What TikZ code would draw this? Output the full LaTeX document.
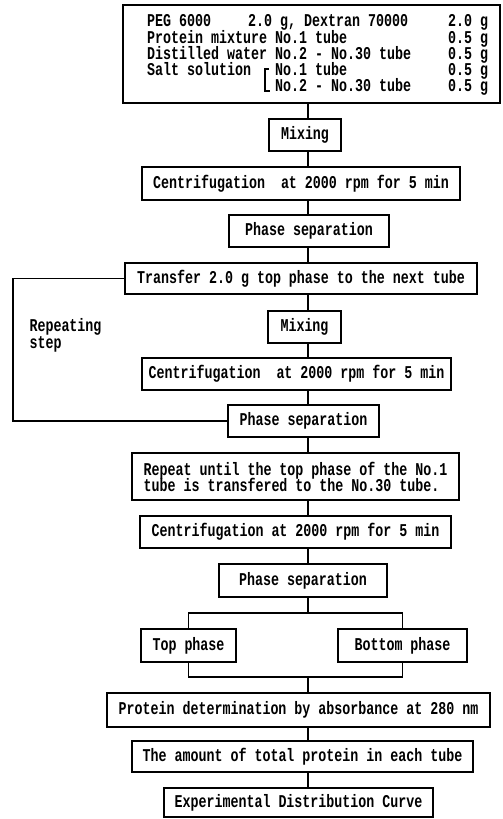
\documentclass[tikz,border=0pt]{standalone}
\usepackage{fontspec}
\newfontfamily\flowfont[FakeStretch=0.74]{Liberation Mono}
\setlength{\lineskiplimit}{-20pt}
% one line of the starting composition: component, tubes, amount
\newcommand\tubecols[3]{\makebox[128pt][l]{#1}\makebox[173pt][l]{#2}#3}
\begin{document}
\begin{tikzpicture}[x=1pt, y=-1pt,
    every node/.style={font=\flowfont\bfseries\fontsize{18}{16}\selectfont},
    box/.style={draw, line width=1.5pt, inner sep=2pt, minimum height=32pt},
    link/.style={line width=1.5pt}]
    \useasboundingbox (0,0) rectangle (503,819);
    % x position of the main vertical line
    \coordinate (spine) at (308,0);
    \coordinate (loopx) at (13,0);

    % 1. Starting composition
    \node[box, minimum width=377pt, minimum height=98pt] (recipe) at (311.5,54) {};
    \node[anchor=base west, inner sep=0pt] (row1) at (147,27)
        {\makebox[101pt][l]{PEG 6000}\makebox[200pt][l]{2.0 g, Dextran 70000}2.0 g};
    \node[anchor=base west, inner sep=0pt] (row2) at (147,43) {\tubecols{Protein mixture}{No.1 tube}{0.5 g}};
    \node[anchor=base west, inner sep=0pt] (row3) at (147,59) {\tubecols{Distilled water}{No.2 - No.30 tube}{0.5 g}};
    \node[anchor=base west, inner sep=0pt] (row4) at (147,75) {\tubecols{Salt solution}{No.1 tube}{0.5 g}};
    \node[anchor=base west, inner sep=0pt] (row5) at (147,91) {\tubecols{}{No.2 - No.30 tube}{0.5 g}};
    \draw[line width=1.2pt] (269,69) -| (265,91) -- (270,91);

    % 2. First round
    \node[box, minimum width=72pt] (mixa) at (305,135) {Mixing};
    \node[box, minimum width=318pt, minimum height=33pt] (centa) at (301,183.5) {Centrifugation~ at 2000 rpm for 5 min};
    \node[box, minimum width=160pt] (sepa) at (309,231) {Phase separation};

    % 3. Repeating step
    \node[box, minimum width=352pt, minimum height=31pt] (transfer) at (301,278.5) {Transfer 2.0 g top phase to the next tube};
    \node[box, minimum width=73pt] (mixb) at (304.5,327) {Mixing};
    \node[box, minimum width=309pt] (centb) at (296.5,374) {Centrifugation~ at 2000 rpm for 5 min};
    \node[box, minimum width=151pt] (sepb) at (303.5,421) {Phase separation};
    \node[anchor=west, align=left] (looptext) at (26,335) {Repeating\\[1pt]step};
    \draw[link] (transfer.west) -| (loopx |- sepb.west) -- (sepb.west);

    % 4. Last round
    \node[box, minimum width=327pt, minimum height=47pt, align=left] (repeat) at (295.5,476.5)
        {Repeat until the top phase of the No.1\\tube is transfered to the No.30 tube.};
    \node[box, minimum width=311pt] (centc) at (295.5,532) {Centrifugation at 2000 rpm for 5 min};
    \node[box, minimum width=168pt, minimum height=33pt] (sepc) at (303,580.5) {Phase separation};

    % 5. Two phases
    \node[box, minimum width=95pt, minimum height=33pt] (topph) at (188.5,645.5) {Top phase};
    \node[box, minimum width=129pt, minimum height=33pt] (botph) at (402.5,645.5) {Bottom phase};
    \coordinate (split) at (308,613);
    \coordinate (join) at (308,677);

    % 6. Analysis
    \node[box, minimum width=383pt, minimum height=34pt] (absorb) at (298.5,710) {Protein determination by absorbance at 280 nm};
    \node[box, minimum width=341pt, minimum height=31pt] (amount) at (302.5,756.5) {The amount of total protein in each tube};
    \node[box, minimum width=269pt, minimum height=29pt] (curve) at (298.5,802.5) {Experimental Distribution Curve};

    % 7. Connecting lines
    \foreach \a/\b in {recipe/mixa, mixa/centa, centa/sepa, sepa/transfer, transfer/mixb,
        mixb/centb, centb/sepb, sepb/repeat, repeat/centc, centc/sepc, absorb/amount, amount/curve}
        \draw[link] (\a.south -| spine) -- (\b.north -| spine);
    \draw[link] (sepc.south -| spine) -- (split);
    \draw[link] (topph.north) |- (split) -| (botph.north);
    \draw[link] (topph.south) |- (join) -| (botph.south);
    \draw[link] (join) -- (absorb.north -| spine);
\end{tikzpicture}
\end{document}
